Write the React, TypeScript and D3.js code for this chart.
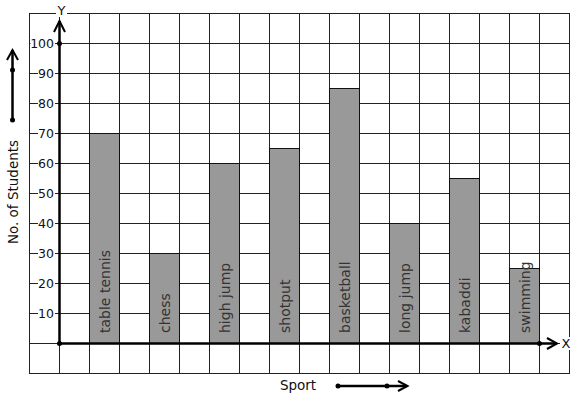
import React from "react";
import * as d3 from "d3";

const sports = ["table tennis", "chess", "high jump", "shotput", "basketball", "long jump", "kabaddi", "swimming"];
const students = [70, 30, 60, 65, 85, 40, 55, 25];
const yTicks = [10, 20, 30, 40, 50, 60, 70, 80, 90, 100];
const xTitle = "Sport";
const yTitle = "No. of Students";

const W = 577;
const H = 399;
const FONT = "DejaVu Sans, sans-serif";

export default function App() {
  const y = d3.scaleLinear().domain([0, 100]).range([343, 43]);
  const x = d3.scaleBand<string>().domain(sports).range([74, 554]).paddingInner(0.5).paddingOuter(0.25);
  const gx = d3.range(29, 570, 30);
  const gy = d3.range(-10, 111, 10).map((v) => y(v));
  const gridLeft = 29, gridRight = 569, gridTop = y(110), gridBottom = y(-10);
  const ox = 59, oy = y(0);
  const tickFs = 12.5;
  const ink = "#111";

  return (
    <svg width={W} height={H} style={{ position: "absolute", left: 0, top: 0, background: "#fff" }} fontFamily={FONT}>
      <rect x={0} y={0} width={W} height={H} fill="#fff" />
      {/* grid */}
      {gx.map((gxv) => (
        <line key={"gx" + gxv} x1={gxv + 0.5} x2={gxv + 0.5} y1={gridTop} y2={gridBottom + 1} stroke="#222" strokeWidth={1} />
      ))}
      {gy.map((gyv) => (
        <line key={"gy" + gyv} x1={gridLeft} x2={gridRight + 1} y1={gyv + 0.5} y2={gyv + 0.5} stroke="#222" strokeWidth={1} />
      ))}
      {/* bars */}
      {sports.map((s, i) => (
        <rect key={s} x={(x(s) as number) + 0.5} y={y(students[i]) + 0.5} width={x.bandwidth()} height={oy - y(students[i])} fill="#999999" stroke="#111" strokeWidth={1} />
      ))}
      {/* bar labels */}
      {sports.map((s) => {
        const cx = (x(s) as number) + x.bandwidth() / 2 + 1;
        return (
          <text key={"l" + s} transform={`translate(${cx},${oy - 10}) rotate(-90)`} fontSize={14} fill="#333" dominantBaseline="central">
            {s}
          </text>
        );
      })}
      {/* y tick labels */}
      {yTicks.map((v) => {
        const txt = String(v);
        const w = txt.length * 0.6 * tickFs + 1;
        return (
          <g key={"t" + v}>
            <rect x={54 - w} y={y(v) - 6} width={w + 1} height={12} fill="#fff" />
            <text x={54} y={y(v) + 0.5} textAnchor="end" dominantBaseline="central" fontSize={tickFs} fill={ink}>
              {txt}
            </text>
          </g>
        );
      })}
      {/* axes */}
      <line x1={ox + 0.5} x2={ox + 0.5} y1={oy + 1} y2={21} stroke="#000" strokeWidth={2.5} />
      <polyline points={`${ox - 5},${32} ${ox + 0.5},${21} ${ox + 6},${32}`} fill="none" stroke="#000" strokeWidth={2} />
      <line x1={ox - 1} x2={557} y1={oy + 0.5} y2={oy + 0.5} stroke="#000" strokeWidth={2.5} />
      <polyline points={`${547},${oy - 5} ${557},${oy + 0.5} ${547},${oy + 6}`} fill="none" stroke="#000" strokeWidth={2} />
      <circle cx={ox + 0.5} cy={y(100) + 0.5} r={2.5} fill="#000" />
      <circle cx={ox + 0.5} cy={oy + 0.5} r={2.5} fill="#000" />
      <circle cx={539.5} cy={oy + 0.5} r={2.5} fill="#000" />
      {/* axis letters */}
      <rect x={56} y={4} width={11} height={13} fill="#fff" />
      <text x={61.5} y={10} textAnchor="middle" dominantBaseline="central" fontSize={13} fill={ink}>Y</text>
      <rect x={560} y={oy - 6} width={11} height={13} fill="#fff" />
      <text x={566} y={oy + 0.5} textAnchor="middle" dominantBaseline="central" fontSize={13} fill={ink}>X</text>
      {/* y title with arrow */}
      <text transform={`translate(13,192) rotate(-90)`} textAnchor="middle" dominantBaseline="central" fontSize={13.5} fill={ink}>
        {yTitle}
      </text>
      <line x1={12.5} x2={12.5} y1={120} y2={50} stroke="#000" strokeWidth={2.5} />
      <polyline points={`7,60 12.5,50 18,60`} fill="none" stroke="#000" strokeWidth={2} />
      <circle cx={12.5} cy={70} r={2.5} fill="#000" />
      <circle cx={12.5} cy={120} r={2.5} fill="#000" />
      {/* x title with arrow */}
      <text x={298} y={385} textAnchor="middle" dominantBaseline="central" fontSize={13.5} fill={ink}>
        {xTitle}
      </text>
      <line x1={337} x2={407} y1={386} y2={386} stroke="#000" strokeWidth={2.5} />
      <polyline points={`398,381 407.5,386 398,391`} fill="none" stroke="#000" strokeWidth={2} />
      <circle cx={338} cy={386} r={2.5} fill="#000" />
      <circle cx={387} cy={386} r={2.5} fill="#000" />
    </svg>
  );
}
